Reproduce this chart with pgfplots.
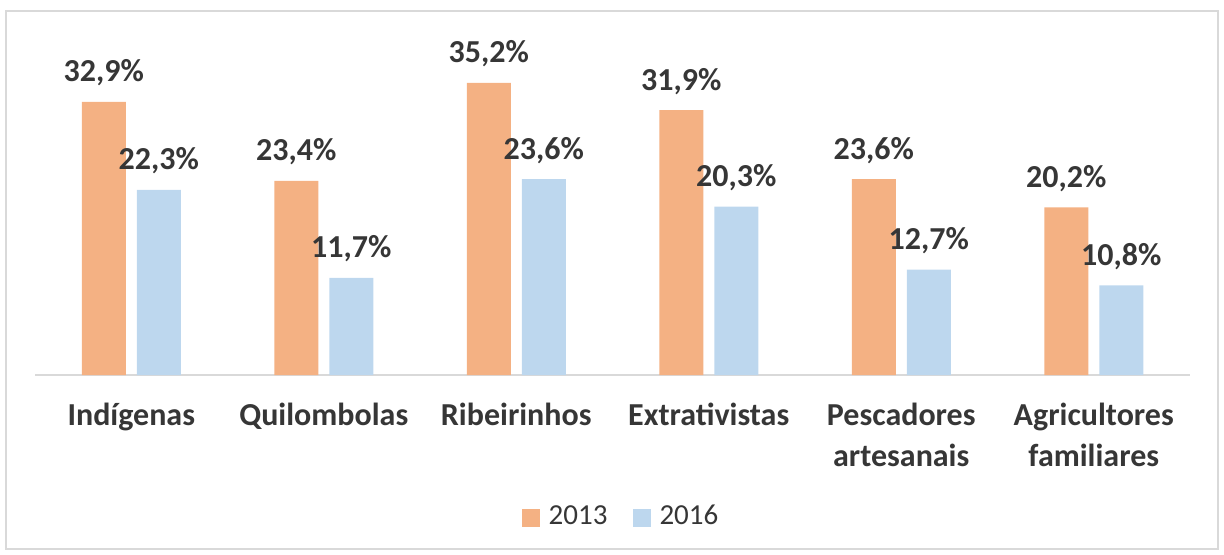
\documentclass[border=0pt]{standalone}
\usepackage{pgfplots}
\pgfplotsset{compat=1.18}
\usepackage{fontspec}
\setmainfont{Carlito}
\definecolor{c13}{HTML}{F4B183}
\definecolor{c16}{HTML}{BDD7EE}
\definecolor{txt}{HTML}{363636}
\definecolor{frm}{HTML}{D9D9D9}
\begin{document}
\begin{tikzpicture}
\path[use as bounding box] (0,0) rectangle (612pt,277pt);
\draw[frm, line width=1pt] (3pt,2.5pt) rectangle (609pt,271.5pt);
\begin{axis}[
  at={(17.5pt,89.5pt)}, anchor=south west,
  scale only axis, width=577.5pt, height=166pt,
  xmin=-0.5, xmax=5.5, ymin=0, ymax=40,
  ybar=5.5pt, bar width=22pt,
  axis y line=none, axis x line=bottom,
  axis line style={-, draw=frm, line width=1pt},
  xtick={0,...,5}, major tick length=0pt,
  xticklabels={{\strut Indígenas},{\strut Quilombolas},{\strut Ribeirinhos},{\strut Extrativistas},{\strut Pescadores\\artesanais},{\strut Agricultores\\familiares}},
  xticklabel style={align=center, font=\fontsize{16}{20.5}\selectfont\bfseries, text=txt, anchor=north, inner sep=0pt, yshift=-10.65pt},
  /pgf/number format/assume math mode=true,
  nodes near coords={\pgfmathprintnumber[fixed,fixed zerofill,precision=1,use comma]{\pgfplotspointmeta}\%},
  every node near coord/.append style={anchor=base, yshift=10pt, inner sep=0pt, text=txt, font=\fontsize{16}{20}\selectfont\bfseries},
  legend style={at={(0.5,-0.4266)}, anchor=center, xshift=3.75pt, draw=none, fill=none,
    font=\fontsize{14.5}{17}\selectfont, text=txt, nodes={inner sep=0pt},
    /tikz/every odd column/.style={column sep=4.5pt},
    /tikz/every even column/.style={column sep=12.5pt}},
  legend columns=2,
]
\addplot[fill=c13, draw=none, legend image code/.code={\fill[c13] (0pt,-5pt) rectangle (9pt,4pt);}] coordinates {(0,32.9) (1,23.4) (2,35.2) (3,31.9) (4,23.6) (5,20.2)};
\addplot[fill=c16, draw=none, legend image code/.code={\fill[c16] (0pt,-5pt) rectangle (9pt,4pt);}] coordinates {(0,22.3) (1,11.7) (2,23.6) (3,20.3) (4,12.7) (5,10.8)};
\legend{2013,2016}
\end{axis}
\end{tikzpicture}
\end{document}
